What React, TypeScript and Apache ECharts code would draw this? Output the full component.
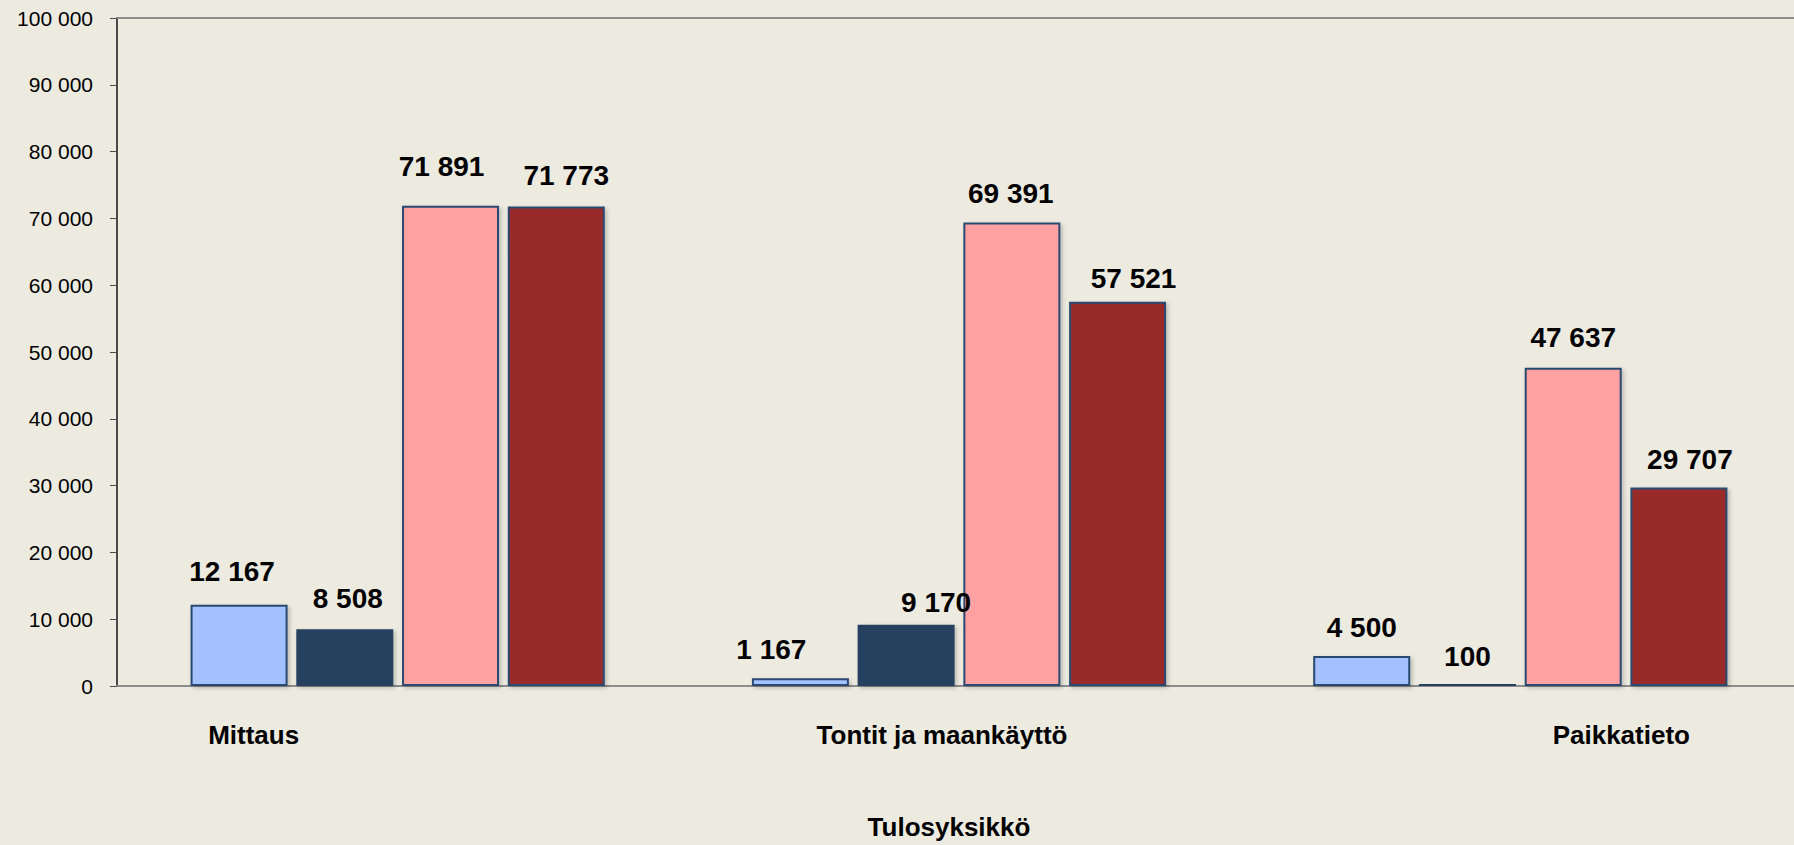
import React, { useEffect, useRef } from "react";
import * as echarts from "echarts";

const categories = ["Mittaus", "Tontit ja maankäyttö", "Paikkatieto"];
const seriesA = [12167, 1167, 4500];
const seriesB = [8508, 9170, 100];
const seriesC = [71891, 69391, 47637];
const seriesD = [71773, 57521, 29707];
const yMin = 0;
const yMax = 100000;
const yStep = 10000;
const axisTitle = "Tulosyksikkö";

// label nudges (style only), [dx, dy] per category
const labelNudges = [
  [[-7, -5], [-29, -1], [0, 0]],
  [[3, -3], [30, 6], [0, 0]],
  [[-9, -11], [-1, -1], [0, -2]],
  [[10, -3], [16, 5], [11, 0]],
];
const catLabelPads = [
  [0, 288, 0, 0],
  [0, 34, 0, 0],
  [0, 0, 0, 202],
];

const FONT = "'Liberation Sans', Arial, Helvetica, sans-serif";
const fmt = (v: number) => String(v).replace(/\B(?=(\d{3})+(?!\d))/g, " ");

export default function App() {
  const ref = useRef<HTMLDivElement>(null);
  useEffect(() => {
    if (!ref.current) return;
    const chart = echarts.init(ref.current, undefined, { renderer: "svg" });
    const border = "#2A4A72";
    const mk = (name: string, vals: number[], idx: number, color: string, bc: string, bw: number) => ({
      name,
      type: "bar",
      barWidth: 97,
      barGap: "9%",
      barMinHeight: 2,
      data: vals.map((v, i) => ({ value: v, label: { offset: labelNudges[idx][i] } })),
      itemStyle: {
        color,
        borderColor: bc,
        borderWidth: bw,
        shadowColor: "rgba(0,0,0,0.22)",
        shadowBlur: 4,
        shadowOffsetX: 2,
        shadowOffsetY: 2,
      },
      label: {
        show: true,
        position: "top",
        distance: 14,
        formatter: (p: any) => fmt(p.value),
        fontFamily: FONT,
        fontWeight: "bold",
        fontSize: 28,
        color: "#000",
      },
    });
    const rich: any = {};
    catLabelPads.forEach((p, i) => {
      rich["c" + i] = {
        fontFamily: FONT,
        fontWeight: "bold",
        fontSize: 26,
        color: "#000",
        padding: p,
      };
    });
    chart.setOption({
      animation: false,
      backgroundColor: "#EDEBE0",
      grid: { left: 117, right: 0, top: 18, bottom: 159, containLabel: false },
      xAxis: [
        {
          type: "category",
          data: categories,
          axisLine: { show: true, lineStyle: { color: "#8C8C8C", width: 2 } },
          axisTick: { show: false },
          axisLabel: {
            margin: 36,
            interval: 0,
            formatter: (v: string, i: number) => `{c${i}|${v}}`,
            rich,
          },
          name: axisTitle,
          nameLocation: "middle",
          nameGap: 128,
          nameTextStyle: {
            fontFamily: FONT,
            fontWeight: "bold",
            fontSize: 26,
            color: "#000",
            padding: [0, 20, 0, 0],
          },
        },
        {
          type: "category",
          position: "top",
          data: categories,
          axisLine: { show: true, lineStyle: { color: "#8C8C8C", width: 2 } },
          axisTick: { show: false },
          axisLabel: { show: false },
        },
      ],
      yAxis: {
        type: "value",
        min: yMin,
        max: yMax,
        interval: yStep,
        axisLine: { show: true, lineStyle: { color: "#4A4A4A", width: 2 } },
        axisTick: { show: true, length: 7, lineStyle: { color: "#4A4A4A", width: 1 } },
        splitLine: { show: false },
        axisLabel: {
          margin: 24,
          formatter: (v: number) => fmt(v),
          fontFamily: FONT,
          fontSize: 21,
          color: "#000",
        },
      },
      series: [
        mk("Sarja 1", seriesA, 0, "#A4C2FF", border, 2),
        mk("Sarja 2", seriesB, 1, "#264060", "#264060", 1.5),
        mk("Sarja 3", seriesC, 2, "#FFA1A1", border, 2),
        mk("Sarja 4", seriesD, 3, "#992B2B", border, 2),
      ],
    });
    return () => chart.dispose();
  }, []);
  return (
    <div
      ref={ref}
      style={{ position: "fixed", left: 0, top: 0, width: 1801, height: 845 }}
    />
  );
}
